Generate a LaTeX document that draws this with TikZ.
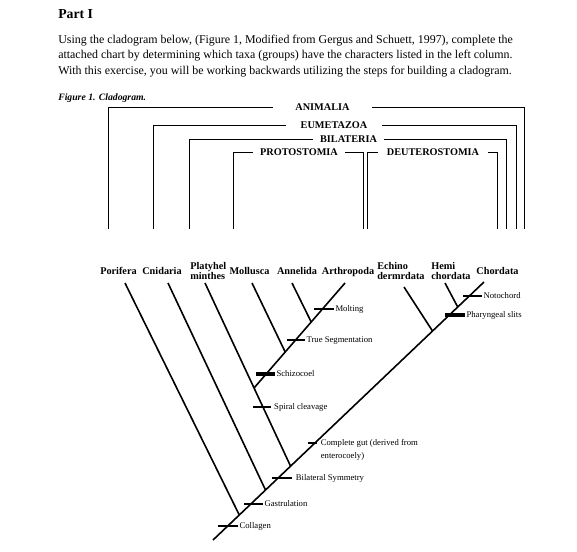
\documentclass[tikz,border=0pt]{standalone}
\usepackage{fontspec}
\setmainfont{Liberation Serif}
\usetikzlibrary{positioning}

\begin{document}
\begin{tikzpicture}[
    x=0.75pt, y=-0.75pt,
    node distance=0.75pt,
    taxon/.style={
        font=\fontsize{7.7}{7.5}\selectfont\bfseries,
        inner sep=0pt,
        text depth=0pt,
        align=left
    },
    clade/.style={
        font=\fontsize{7.7}{9}\selectfont\bfseries,
        inner sep=0pt,
        text height=5.1pt,
        text depth=0pt
    },
    bracket/.style={line width=0.75pt},
    branch/.style={line width=1.2pt},
    charbar/.style={
        fill=black,
        inner sep=0pt,
        minimum height=1.5pt
    },
    trait/.style={
        font=\fontsize{6.5}{9.75}\selectfont,
        inner sep=0pt,
        text height=4.3pt,
        text depth=0pt,
        align=left
    }
]
\useasboundingbox (0,0) rectangle (577,551);

\node[anchor=base west, inner sep=0pt, font=\fontsize{10.3}{12}\selectfont\bfseries] (part) at (58,18.3) {Part I};
\node[anchor=north west, inner sep=0pt, align=left, font=\fontsize{8.95}{11.4}\selectfont] (intro) at (58,35) {Using the cladogram below, (Figure 1, Modified from Gergus and Schuett, 1997), complete the\\attached chart by determining which taxa (groups) have the characters listed in the left column.\\With this exercise, you will be working backwards utilizing the steps for building a cladogram.};
\node[anchor=base west, inner sep=0pt, font=\fontsize{7.3}{9}\selectfont\bfseries\itshape] (figcap) at (58,100.7) {Figure 1. Cladogram.};

% clade brackets
\node[clade, minimum width=74.25pt] (animalia) at (322.5,107) {ANIMALIA};
\node[clade, minimum width=72pt] (eumetazoa) at (334,125) {EUMETAZOA};
\node[clade, minimum width=53.25pt] (bilateria) at (348.5,139) {BILATERIA};
\node[clade, minimum width=69pt] (protostomia) at (299,152) {PROTOSTOMIA};
\node[clade, minimum width=82.5pt] (deuterostomia) at (433,152) {DEUTEROSTOMIA};

\coordinate (animL) at (108,229);
\coordinate (animR) at (524,229);
\coordinate (eumeL) at (153,229);
\coordinate (eumeR) at (516,229);
\coordinate (bilaL) at (189,229);
\coordinate (bilaR) at (506,229);
\coordinate (protL) at (233,229);
\coordinate (protR) at (363,229);
\coordinate (deutL) at (367,229);
\coordinate (deutR) at (497,229);

\draw[bracket] (animL) |- (animalia.west);
\draw[bracket] (animalia.east) -| (animR);
\draw[bracket] (eumeL) |- (eumetazoa.west);
\draw[bracket] (eumetazoa.east) -| (eumeR);
\draw[bracket] (bilaL) |- (bilateria.west);
\draw[bracket] (bilateria.east) -| (bilaR);
\draw[bracket] (protL) |- (protostomia.west);
\draw[bracket] (protostomia.east) -| (protR);
\draw[bracket] (deutL) |- (deuterostomia.west);
\draw[bracket] (deuterostomia.east) -| (deutR);

% taxa
\node[taxon, anchor=south] (porifera) at (118.5,275) {Porifera};
\node[taxon, anchor=south] (cnidaria) at (162,275) {Cnidaria};
\node[taxon, anchor=south west] (platyhel) at (190,280) {Platyhel\\minthes};
\node[taxon, anchor=south] (mollusca) at (249.5,275) {Mollusca};
\node[taxon, anchor=south] (annelida) at (297,275) {Annelida};
\node[taxon, anchor=south] (arthropoda) at (348,275) {Arthropoda};
\node[taxon, anchor=south west] (echino) at (377,280) {Echino\\dermrdata};
\node[taxon, anchor=south west] (hemi) at (431,280) {Hemi\\chordata};
\node[taxon, anchor=south] (chordata) at (497.5,275) {Chordata};

\coordinate (root) at (213,540);
\coordinate (poriTip) at (125,283);
\coordinate (poriJ) at (239.3,515);
\coordinate (cnidTip) at (168,283);
\coordinate (cnidJ) at (265.5,490);
\coordinate (platyTip) at (205,283);
\coordinate (platyJ) at (290.5,466);
\coordinate (protoJ) at (254,388);
\coordinate (mollTip) at (252,283);
\coordinate (mollJ) at (285.2,352);
\coordinate (anneTip) at (292,283);
\coordinate (anneJ) at (311.2,322);
\coordinate (arthTip) at (345,283);
\coordinate (echiTip) at (404,287);
\coordinate (echiJ) at (432.5,331);
\coordinate (hemiTip) at (445,283);
\coordinate (hemiJ) at (457.7,307);
\coordinate (chorTip) at (484,282);

\draw[branch] (root) -- (chorTip);
\draw[branch] (poriJ) -- (poriTip);
\draw[branch] (cnidJ) -- (cnidTip);
\draw[branch] (platyJ) -- (platyTip);
\draw[branch] (protoJ) -- (arthTip);
\draw[branch] (mollJ) -- (mollTip);
\draw[branch] (anneJ) -- (anneTip);
\draw[branch] (echiJ) -- (echiTip);
\draw[branch] (hemiJ) -- (hemiTip);

% characters
\node[charbar, minimum width=15pt] (collagenBar) at (228,526) {};
\node[trait, right=of collagenBar] (collagen) {Collagen};
\node[charbar, minimum width=14.25pt] (gastruBar) at (253.5,504) {};
\node[trait, right=of gastruBar] (gastru) {Gastrulation};
\node[charbar, minimum width=15pt] (bilatBar) at (282,478) {};
\node[trait, right=2.5pt of bilatBar] (bilat) {Bilateral Symmetry};
\node[charbar, minimum width=6.75pt] (gutBar) at (312.5,443) {};
\node[trait, right=2.5pt of gutBar, yshift=-9.75pt] (gut) {Complete gut (derived from\\enterocoely)};
\node[charbar, minimum width=13.5pt] (spiralBar) at (262,407) {};
\node[trait, right=2pt of spiralBar] (spiral) {Spiral cleavage};
\node[charbar, minimum width=14.25pt, minimum height=2.3pt] (schizoBar) at (265.5,374) {};
\node[trait, right=of schizoBar] (schizo) {Schizocoel};
\node[charbar, minimum width=13.5pt] (segmBar) at (296,340) {};
\node[trait, right=of segmBar] (segm) {True Segmentation};
\node[charbar, minimum width=15pt] (moltBar) at (324,309) {};
\node[trait, right=of moltBar] (molt) {Molting};
\node[charbar, minimum width=15pt, minimum height=2.3pt] (pharBar) at (455,315) {};
\node[trait, right=of pharBar] (phar) {Pharyngeal slits};
\node[charbar, minimum width=14.25pt] (notoBar) at (472.5,296) {};
\node[trait, right=of notoBar] (noto) {Notochord};

\end{tikzpicture}
\end{document}
